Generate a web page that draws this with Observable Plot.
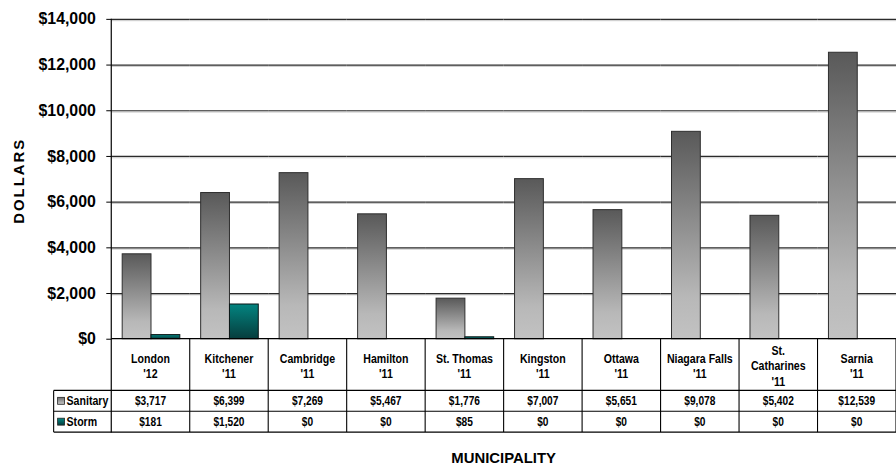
<!DOCTYPE html>
<html><head><meta charset="utf-8">
<script src="https://cdn.jsdelivr.net/npm/d3@7"></script>
<script src="https://cdn.jsdelivr.net/npm/@observablehq/plot@0.6"></script>
<style>
body{margin:0;background:#fff;}
#wrap{width:896px;height:471px;overflow:hidden;position:relative;background:#fff;}
</style></head><body><div id="wrap"></div>
<script>
const municipalities = ["London","Kitchener","Cambridge","Hamilton","St. Thomas","Kingston","Ottawa","Niagara Falls","St. Catharines","Sarnia"];
const years = ["'12","'11","'11","'11","'11","'11","'11","'11","'11","'11"];
const sanitary = [3717,6399,7269,5467,1776,7007,5651,9078,5402,12539];
const storm = [181,1520,0,0,85,0,0,0,0,0];
const seriesNames = ["Sanitary","Storm"];
const yTicks = [0,2000,4000,6000,8000,10000,12000,14000];
const yTitle = "DOLLARS";
const xTitle = "MUNICIPALITY";

const seriesValues = {Sanitary: sanitary, Storm: storm};
const rows = municipalities.flatMap((m,i)=>seriesNames.map(s=>({cat:m, series:s, value:seriesValues[s][i]})));
const fillOf = {Sanitary:"url(#gradSan)", Storm:"url(#gradStorm)"};
const strokeOf = {Sanitary:"#2e2e2e", Storm:"#0b1616"};
const swatchOf = {Sanitary:"url(#gradSwSan)", Storm:"url(#gradSwStorm)"};
const fmt = v => "$" + d3.format(",")(v);

const plot = Plot.plot({
  width: 902, height: 471,
  marginLeft: 112, marginRight: 0, marginTop: 19, marginBottom: 130,
  style: {fontFamily: "'Liberation Sans', Arial, sans-serif", fontSize: "16px", fontWeight: "bold", color: "#000", background: "#fff", overflow: "visible"},
  facet: {data: rows, x: "cat"},
  fx: {domain: municipalities, padding: 0, axis: null, label: null},
  x: {domain: seriesNames, paddingInner: 0, paddingOuter: 0.362, axis: null, label: null},
  y: {domain: [0, 14000], ticks: yTicks, tickFormat: fmt, tickSize: 5, tickPadding: 11, label: null},
  color: {type: "identity"},
  marks: [
    Plot.ruleY(yTicks.slice(1), {stroke: "#c8c8c8", strokeWidth: 1, dy: 1.3}),
    Plot.ruleY(yTicks.slice(1), {stroke: "#2b2b2b", strokeWidth: 1.2}),
    Plot.barY(rows, {x: "series", y: "value", fill: d => fillOf[d.series], stroke: d => strokeOf[d.series], strokeWidth: 1})
  ]
});
document.getElementById("wrap").appendChild(plot);

const svg = d3.select(plot);
svg.insert("defs", ":first-child").html(`
  <linearGradient id="gradSan" x1="0" y1="0" x2="0" y2="1">
    <stop offset="0" stop-color="#595959"/><stop offset="0.8" stop-color="#b8b8b8"/><stop offset="1" stop-color="#c2c2c2"/>
  </linearGradient>
  <linearGradient id="gradStorm" x1="0" y1="0" x2="0" y2="1">
    <stop offset="0" stop-color="#038480"/><stop offset="1" stop-color="#063d3d"/>
  </linearGradient>
  <linearGradient id="gradSwSan" x1="0" y1="0" x2="0" y2="1">
    <stop offset="0" stop-color="#6a6a6a"/><stop offset="1" stop-color="#c8c8c8"/>
  </linearGradient>
  <linearGradient id="gradSwStorm" x1="0" y1="0" x2="0" y2="1">
    <stop offset="0" stop-color="#048a86"/><stop offset="1" stop-color="#063d3d"/>
  </linearGradient>`);

svg.selectAll("[aria-label='y-axis'] text, [aria-label='y-axis tick label'] text").attr("font-size", 16).attr("font-weight", "bold").attr("fill", "#000");
svg.selectAll("[aria-label='y-axis'] path, [aria-label='y-axis tick'] path").attr("stroke", "#000");

// data table, aligned with Plot's fx band scale
const fxS = plot.scale("fx");
const band = d3.scaleBand(fxS.domain, fxS.range).paddingInner(0).paddingOuter(0).round(true);
const yS = plot.scale("y");
const y0 = Math.max(...yS.range), yTop = Math.min(...yS.range);
const left = fxS.range[0], right = fxS.range[1];
const y1 = y0 + 52, y2 = y1 + 21, y3 = y2 + 21;
const legLeft = 54;
const font = "'Liberation Sans', Arial, sans-serif";

const g = svg.append("g").attr("fill", "#000").attr("font-weight", "bold").attr("text-anchor", "start");
const line = (xa, ya, xb, yb, w = 1) => g.append("line").attr("x1", xa).attr("y1", ya).attr("x2", xb).attr("y2", yb).attr("stroke", "#000").attr("stroke-width", w);
const ntext = (x, y, t, size, anchor) => g.append("text").attr("transform", `translate(${x},${y}) scale(0.82,1)`)
  .attr("dy", "0.36em").attr("text-anchor", anchor).attr("font-family", font).attr("font-size", size).text(t);

line(left, yTop, left, y3 + 0.5, 1.2);
line(left, y0, right, y0, 1.3);
[y1, y2, y3].forEach(yy => line(legLeft, yy, right, yy, 1.1));
line(legLeft, y1, legLeft, y3, 1.1);
municipalities.forEach(c => line(band(c) + band.step(), y0, band(c) + band.step(), y3, 1.1));

const wrap = name => name.length > 13 ? name.split(" ") : [name];
municipalities.forEach((c, i) => {
  const lines = [...wrap(c), years[i]];
  const cx = band(c) + band.bandwidth() / 2;
  const cy = (y0 + y1) / 2 + 1;
  const lh = 15.5;
  lines.forEach((t, k) => ntext(cx, cy + (k - (lines.length - 1) / 2) * lh, t, 13, "middle"));
  seriesNames.forEach((s, j) => {
    const ry = (j === 0 ? (y1 + y2) / 2 : (y2 + y3) / 2);
    ntext(cx, ry, fmt(seriesValues[s][i]), 12.5, "middle");
  });
});
seriesNames.forEach((s, j) => {
  const ry = (j === 0 ? (y1 + y2) / 2 : (y2 + y3) / 2);
  g.append("rect").attr("x", legLeft + 4).attr("y", ry - 3.5).attr("width", 7).attr("height", 7)
    .attr("fill", swatchOf[s]).attr("stroke", "#222").attr("stroke-width", 0.8);
  ntext(legLeft + 13, ry, s, 13, "start");
});

g.append("text").attr("transform", `translate(18.5,${(yTop + y0) / 2 + 2}) rotate(-90)`).attr("text-anchor", "middle")
  .attr("dy", "0.36em").attr("font-family", font).attr("font-size", 15)
  .attr("letter-spacing", 2).text(yTitle);
g.append("text").attr("x", (left + right) / 2).attr("y", 461).attr("dy", "0.36em").attr("text-anchor", "middle")
  .attr("font-family", font).attr("font-size", 15).text(xTitle);
</script></body></html>
